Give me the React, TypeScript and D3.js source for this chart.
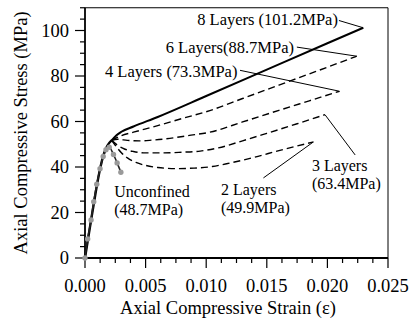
import React from "react";
import * as d3 from "d3";

const W = 410, H = 322;
const FONT = "'Liberation Serif', 'Times New Roman', serif";

// shared ascending branch (confined specimens)
const ascStrain = [0, 0.00025, 0.0005, 0.00075, 0.001, 0.00125, 0.0015, 0.00175, 0.002, 0.0022];
const ascStress = [0, 8.3, 16.6, 24.6, 32.4, 39.3, 44.8, 48.4, 50.6, 51.7];

const l8Strain = [0.0022, 0.0026, 0.003, 0.004, 0.006, 0.01, 0.015, 0.02, 0.02296];
const l8Stress = [51.7, 54, 55.5, 57.8, 62, 71.2, 82.8, 94.4, 101.2];

const l6Strain = [0.0022, 0.003, 0.004, 0.006, 0.008, 0.0103, 0.013, 0.016, 0.019, 0.02242];
const l6Stress = [51.7, 53.8, 55.3, 58.2, 61.3, 64.8, 70.1, 76.0, 81.9, 88.7];

const l4Strain = [0.0022, 0.0027, 0.0035, 0.0045, 0.0055, 0.007, 0.0085, 0.0103, 0.013, 0.016, 0.0185, 0.021];
const l4Stress = [51.7, 52.2, 51.7, 51.5, 51.8, 52.6, 53.8, 55.3, 59.8, 64.9, 69.1, 73.3];

const l3Strain = [0.0022, 0.0027, 0.0033, 0.004, 0.005, 0.0065, 0.008, 0.0095, 0.011, 0.013, 0.015, 0.0175, 0.0198];
const l3Stress = [51.7, 49.5, 47.8, 46.8, 46.2, 46.2, 46.5, 47.0, 48.4, 51.5, 54.8, 59.0, 63.0];

const l2Strain = [0.0022, 0.0026, 0.003, 0.0035, 0.0042, 0.005, 0.006, 0.0075, 0.009, 0.0105, 0.012, 0.014, 0.016, 0.01884];
const l2Stress = [51.7, 48.8, 46.3, 44.0, 42.0, 40.7, 39.8, 39.3, 39.5, 40.2, 41.8, 44.3, 47.2, 51.0];

const ucStrain = [0, 0.00022, 0.0005, 0.00072, 0.00097, 0.00124, 0.0015, 0.00173, 0.002, 0.00235, 0.00265, 0.00296];
const ucStress = [0, 8.4, 16.7, 24.7, 32.4, 39.2, 44.6, 47.6, 48.7, 45.5, 41.8, 37.7];

const xTicks = [0, 0.005, 0.01, 0.015, 0.02, 0.025];
const xTickLabels = ["0.000", "0.005", "0.010", "0.015", "0.020", "0.025"];
const yTicks = [0, 20, 40, 60, 80, 100];
const yTickLabels = ["0", "20", "40", "60", "80", "100"];

// annotation labels: text lines, text anchor (data units), leader start (data units)
const annLines = [
  ["8 Layers (101.2MPa)"],
  ["6 Layers(88.7MPa)"],
  ["4 Layers (73.3MPa)"],
  ["3 Layers", "(63.4MPa)"],
  ["2 Layers", "(49.9MPa)"],
  ["Unconfined", "(48.7MPa)"],
];
const annTextStrain = [0.00926, 0.00666, 0.00165, 0.01872, 0.01122, 0.00241];
const annTextStress = [102.4, 90.3, 79.6, 38.3, 27.5, 26.9];
const annLeadStrain = [0.02095, 0.01748, 0.01279, 0.02229, 0.01472, NaN];
const annLeadStress = [104.4, 92.7, 82.5, 45.3, 35.2, NaN];

const zip = (xs: number[], ys: number[]) => xs.map((x, i) => [x, ys[i]] as [number, number]);

export default function App() {
  const x = d3.scaleLinear().domain([0, 0.025]).range([85, 388]);
  const y = d3.scaleLinear().domain([0, 110]).range([258, 7.75]);
  const line = d3
    .line<[number, number]>()
    .x((d) => x(d[0]))
    .y((d) => y(d[1]))
    .curve(d3.curveMonotoneX);
  const lineLin = d3
    .line<[number, number]>()
    .x((d) => x(d[0]))
    .y((d) => y(d[1]))
    .curve(d3.curveCatmullRom);

  const curves = [
    { sx: l8Strain, sy: l8Stress, dash: undefined, w: 2 },
    { sx: l6Strain, sy: l6Stress, dash: "7,4", w: 1.4 },
    { sx: l4Strain, sy: l4Stress, dash: "7,4", w: 1.4 },
    { sx: l3Strain, sy: l3Stress, dash: "7,4", w: 1.4 },
    { sx: l2Strain, sy: l2Stress, dash: "7,4", w: 1.4 },
  ];

  const xMinor = d3.range(0, 0.0250001, 0.00125);
  const yMinor = d3.range(0, 110.001, 5);

  return (
    <svg width={W} height={H} style={{ position: "absolute", left: 0, top: 0, background: "#fff" }} fontFamily={FONT}>
      <rect x={0} y={0} width={W} height={H} fill="#fff" />
      {/* frame */}
      <line x1={x(0)} x2={x(0.025)} y1={y(110)} y2={y(110)} stroke="#000" strokeWidth={1} />
      <line x1={x(0.025)} x2={x(0.025)} y1={y(110)} y2={y(0)} stroke="#000" strokeWidth={1} />
      <line x1={x(0)} x2={x(0.025)} y1={y(0)} y2={y(0)} stroke="#000" strokeWidth={1.8} />
      <line x1={x(0)} x2={x(0)} y1={y(110)} y2={y(0)} stroke="#000" strokeWidth={1.8} />
      {/* x ticks */}
      {xMinor.map((t, i) => (
        <line key={"xm" + i} x1={x(t)} x2={x(t)} y1={y(0)} y2={y(0) + (i % 4 === 0 ? 10 : 5)} stroke="#000" strokeWidth={1.2} />
      ))}
      {xTicks.map((t, i) => (
        <text key={"xl" + i} x={x(t)} y={292} textAnchor="middle" fontSize={18.5} fill="#000">
          {xTickLabels[i]}
        </text>
      ))}
      {/* y ticks */}
      {yMinor.map((t, i) => (
        <line key={"ym" + i} x1={x(0) - (i % 4 === 0 ? 10 : 5)} x2={x(0)} y1={y(t)} y2={y(t)} stroke="#000" strokeWidth={1.2} />
      ))}
      {yTicks.map((t, i) => (
        <text key={"yl" + i} x={69} y={y(t) + 6} textAnchor="end" fontSize={18.5} fill="#000">
          {yTickLabels[i]}
        </text>
      ))}
      <text x={228} y={314} textAnchor="middle" fontSize={18.5} fill="#000">
        Axial Compressive Strain (ε)
      </text>
      <text transform={`translate(27,${(y(0) + y(110)) / 2}) rotate(-90)`} textAnchor="middle" fontSize={18.5} fill="#000">
        Axial Compressive Stress (MPa)
      </text>

      {/* curves */}
      {curves.map((c, i) => (
        <path key={"c" + i} d={line(zip(c.sx, c.sy)) || ""} fill="none" stroke="#000" strokeWidth={c.w} strokeDasharray={c.dash} />
      ))}
      <path d={line(zip(ascStrain, ascStress)) || ""} fill="none" stroke="#000" strokeWidth={2.4} />
      {/* unconfined */}
      <path d={lineLin(zip(ucStrain, ucStress)) || ""} fill="none" stroke="#222" strokeWidth={1.6} />
      {ucStrain.map((s, i) => (
        <circle key={"uc" + i} cx={x(s)} cy={y(ucStress[i])} r={2.7} fill="#9a9a9a" />
      ))}

      {/* annotations */}
      {annLines.map((ls, i) =>
        ls.map((l, j) => (
          <text key={"a" + i + "_" + j} x={x(annTextStrain[i])} y={y(annTextStress[i]) + j * 18} fontSize={ls.length > 1 ? 16 : 16.5} fill="#000">
            {l}
          </text>
        ))
      )}
      {[l8Strain, l6Strain, l4Strain, l3Strain, l2Strain].map((sx, i) => {
        const sy = [l8Stress, l6Stress, l4Stress, l3Stress, l2Stress][i];
        const ex = sx[sx.length - 1], ey = sy[sy.length - 1];
        return (
          <line key={"ld" + i} x1={x(annLeadStrain[i])} y1={y(annLeadStress[i])} x2={x(ex)} y2={y(ey)} stroke="#000" strokeWidth={1} />
        );
      })}
    </svg>
  );
}
